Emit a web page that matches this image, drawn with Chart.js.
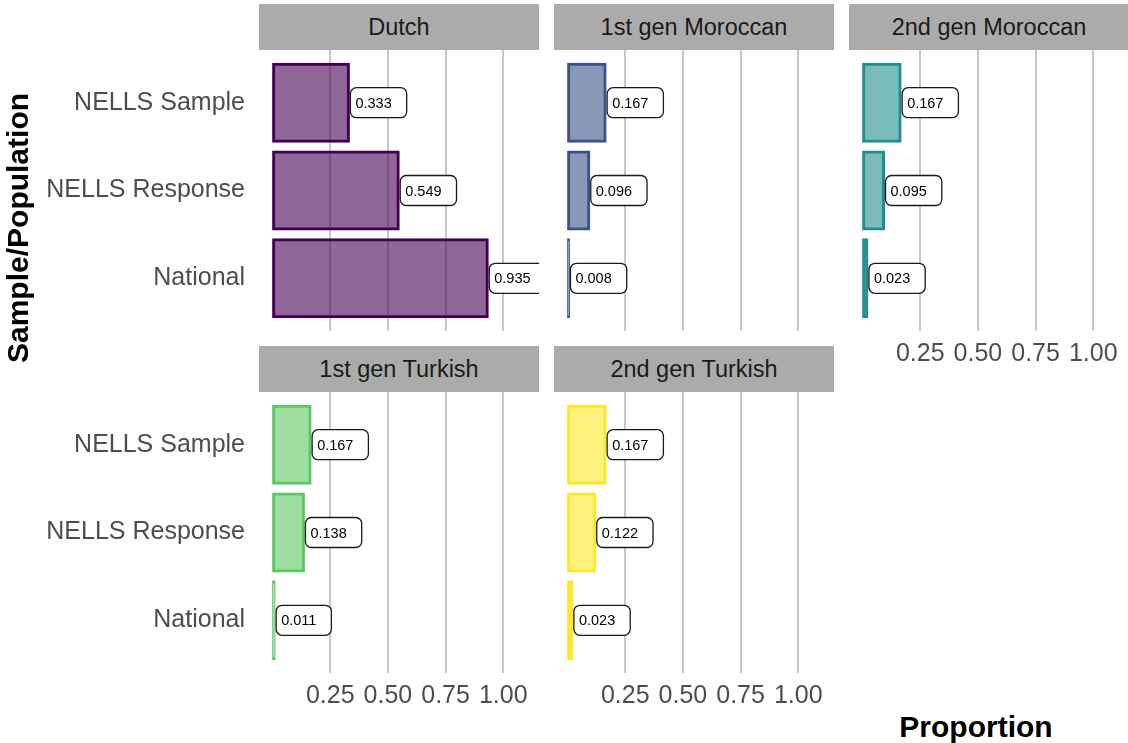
<!DOCTYPE html>
<html>
<head>
<meta charset="utf-8">
<script src="https://cdn.jsdelivr.net/npm/chart.js@4.4.1/dist/chart.umd.min.js"></script>
<style>
  html, body { margin: 0; padding: 0; background: #fff; overflow: hidden; }
  body { width: 1128px; height: 743px; position: relative; font-family: "Liberation Sans", Arial, sans-serif; }
  .strip {
    position: absolute; background: #ababab; color: #1a1a1a;
    font-size: 23.5px; text-align: center; line-height: 46px; height: 46px; width: 280px;
  }
  .box { position: absolute; }
  .title { position: absolute; font-weight: bold; font-size: 30px; color: #000; white-space: nowrap; }
</style>
</head>
<body>
<script>
// data
const groups = ['Dutch', '1st gen Moroccan', '2nd gen Moroccan', '1st gen Turkish', '2nd gen Turkish'];
const categories = ['NELLS Sample', 'NELLS Response', 'National'];
const nellsSample = [0.333, 0.167, 0.167, 0.167, 0.167];
const nellsResponse = [0.549, 0.096, 0.095, 0.138, 0.122];
const national = [0.935, 0.008, 0.023, 0.011, 0.023];
const xTicks = [0.25, 0.50, 0.75, 1.00];
const colors = ['#440154', '#3B528B', '#21908C', '#5DC863', '#FDE725'];

// facet layout
const panelW = 280, panelH = 281;
const colX = [259, 554, 849];
const rowY = [50, 392];
const stripY = [4, 346];

function withAlpha(hex, a) {
    const n = parseInt(hex.slice(1), 16);
    return `rgba(${n >> 16}, ${(n >> 8) & 255}, ${n & 255}, ${a})`;
}

// value labels (geom_label style)
const labelPlugin = {
    id: 'valueLabels',
    afterDatasetsDraw(chart) {
        const ctx = chart.ctx;
        const area = chart.chartArea;
        const meta = chart.getDatasetMeta(0);
        const values = chart.data.datasets[0].data;
        ctx.save();
        ctx.beginPath();
        ctx.rect(area.left, area.top, area.right - area.left, area.bottom - area.top);
        ctx.clip();
        ctx.font = '14.5px "Liberation Sans", Arial, sans-serif';
        ctx.textBaseline = 'middle';
        meta.data.forEach((bar, i) => {
            const txt = values[i].x.toFixed(3);
            const w = ctx.measureText(txt).width + 20;
            const x = bar.x + 1, y = bar.y;
            ctx.beginPath();
            ctx.roundRect(x, y - 15, w, 30, 6);
            ctx.fillStyle = '#fff';
            ctx.fill();
            ctx.lineWidth = 1.3;
            ctx.strokeStyle = '#1a1a1a';
            ctx.stroke();
            ctx.fillStyle = '#000';
            ctx.fillText(txt, x + 5, y + 1);
        });
        ctx.restore();
    }
};

function makePanel(g, col, row, showY, showX) {
    const left = colX[col], top = rowY[row];
    const strip = document.createElement('div');
    strip.className = 'strip';
    strip.style.left = left + 'px';
    strip.style.top = stripY[row] + 'px';
    strip.textContent = groups[g];
    document.body.appendChild(strip);

    const yW = showY ? left : 0;
    const xH = showX ? 45 : 0;
    const box = document.createElement('div');
    box.className = 'box';
    box.style.left = (left - yW) + 'px';
    box.style.top = top + 'px';
    const canvas = document.createElement('canvas');
    canvas.width = panelW + yW;
    canvas.height = panelH + xH;
    box.appendChild(canvas);
    document.body.appendChild(box);

    const vals = [nellsSample[g], nellsResponse[g], national[g]];
    new Chart(canvas, {
        type: 'bar',
        data: {
            datasets: [{
                data: vals.map((v, i) => ({ x: v, y: i + 1 })),
                backgroundColor: withAlpha(colors[g], 0.6),
                borderColor: colors[g],
                borderWidth: 2,
                inflateAmount: 0.5,
                borderSkipped: false,
                barPercentage: 1,
                categoryPercentage: 0.9
            }]
        },
        options: {
            indexAxis: 'y',
            responsive: false,
            animation: false,
            layout: { padding: 0 },
            plugins: { legend: { display: false }, tooltip: { enabled: false } },
            scales: {
                x: {
                    type: 'linear',
                    offset: false,
                    min: -0.059,
                    max: 1.155,
                    afterBuildTicks: s => { s.ticks = xTicks.map(v => ({ value: v })); },
                    afterFit: s => { s.height = xH; s.paddingLeft = 0; s.paddingRight = 0; },
                    grid: { color: '#c8c8c8', lineWidth: 2, drawTicks: false, offset: false },
                    border: { display: false },
                    ticks: {
                        display: showX,
                        padding: 8,
                        color: '#4d4d4d',
                        font: { size: 25, family: '"Liberation Sans", Arial, sans-serif' },
                        maxRotation: 0,
                        callback: v => v.toFixed(2)
                    }
                },
                y: {
                    type: 'linear',
                    offset: false,
                    reverse: true,
                    min: 0.4,
                    max: 3.6,
                    afterBuildTicks: s => { s.ticks = categories.map((c, i) => ({ value: i + 1 })); },
                    afterFit: s => { s.width = yW; s.paddingTop = 0; s.paddingBottom = 0; },
                    grid: { display: false, drawTicks: false, offset: false },
                    border: { display: false },
                    ticks: {
                        display: showY,
                        padding: 14,
                        color: '#4d4d4d',
                        font: { size: 25, family: '"Liberation Sans", Arial, sans-serif' },
                        callback: v => categories[v - 1]
                    }
                }
            }
        },
        plugins: [labelPlugin]
    });
}

makePanel(0, 0, 0, true, false);
makePanel(1, 1, 0, false, false);
makePanel(2, 2, 0, false, true);
makePanel(3, 0, 1, true, true);
makePanel(4, 1, 1, false, true);

// axis titles
const yTitle = document.createElement('div');
yTitle.className = 'title';
yTitle.textContent = 'Sample/Population';
yTitle.style.left = '18px';
yTitle.style.top = '228px';
yTitle.style.transform = 'translate(-50%, -50%) rotate(-90deg)';
document.body.appendChild(yTitle);

const xTitle = document.createElement('div');
xTitle.className = 'title';
xTitle.textContent = 'Proportion';
xTitle.style.left = '976px';
xTitle.style.top = '727px';
xTitle.style.transform = 'translate(-50%, -50%)';
document.body.appendChild(xTitle);
</script>
</body>
</html>
